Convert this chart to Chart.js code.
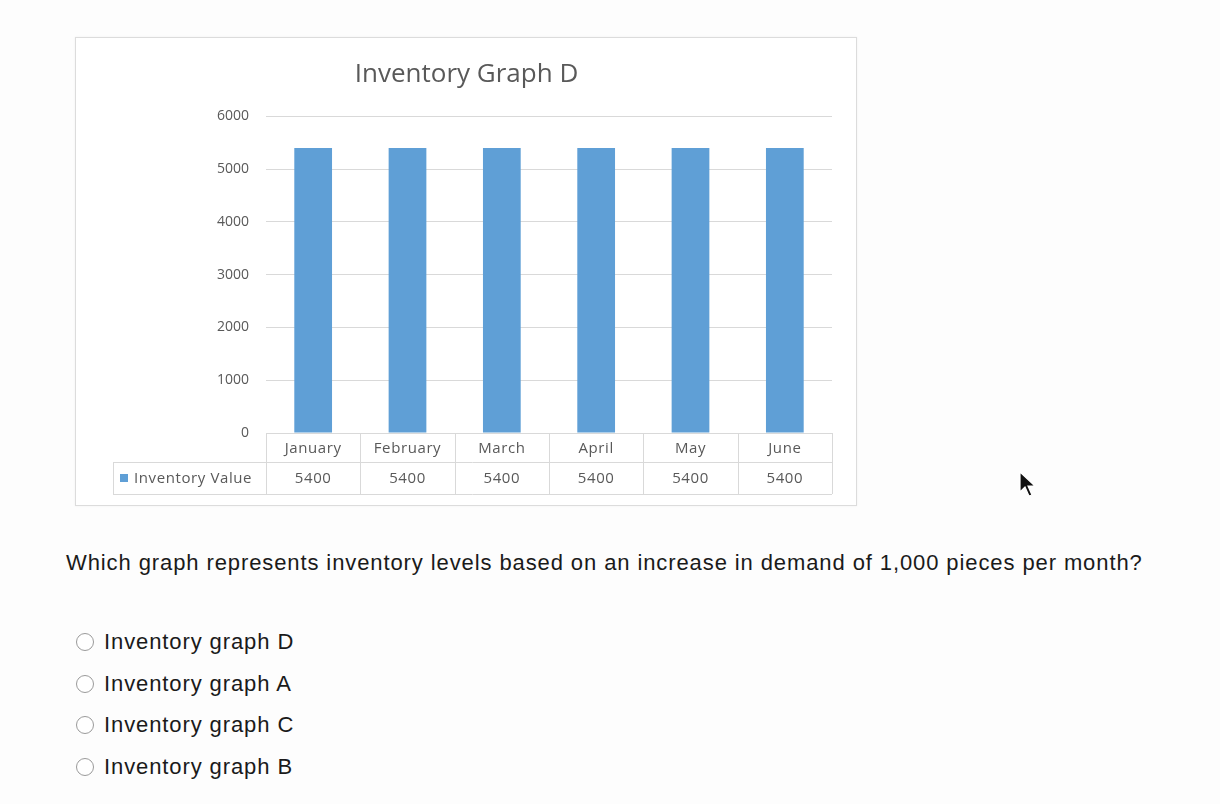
<!DOCTYPE html>
<html>
<head>
<meta charset="utf-8">
<title>Inventory Graph D</title>
<script src="https://cdn.jsdelivr.net/npm/chart.js@4/dist/chart.umd.min.js"></script>
<style>
  body { margin: 0; background: #fdfdfd; width: 1220px; height: 804px; position: relative; overflow: hidden; font-family: "Liberation Sans", Arial, sans-serif; }
  #chartBox { position: absolute; left: 75px; top: 37px; width: 780px; height: 467px; border: 1px solid #dcdcdc; background: #fff; box-shadow: 0 0 2px rgba(0,0,0,0.06); }
  #question { position: absolute; left: 66px; top: 550px; font-size: 22px; letter-spacing: 0.9px; color: #1a1a1a; white-space: nowrap; }
  .opt { position: absolute; left: 76px; font-size: 22px; letter-spacing: 0.9px; color: #1a1a1a; display: flex; align-items: center; }
  .opt span.radio { width: 18px; height: 18px; border: 1px solid #9a9a9a; border-radius: 50%; background: #fff; margin-right: 10px; box-sizing: border-box; }
  #cursor { position: absolute; left: 1018px; top: 470px; }
</style>
</head>
<body>
<div id="chartBox"><canvas id="invChart" width="780" height="467"></canvas></div>

<div id="question">Which graph represents inventory levels based on an increase in demand of 1,000 pieces per month?</div>
<div class="opt" style="top:629px"><span class="radio"></span>Inventory graph D</div>
<div class="opt" style="top:671px"><span class="radio"></span>Inventory graph A</div>
<div class="opt" style="top:712px"><span class="radio"></span>Inventory graph C</div>
<div class="opt" style="top:754px"><span class="radio"></span>Inventory graph B</div>

<svg id="cursor" width="20" height="30" viewBox="0 0 20 30">
  <path d="M2 2 L2 22 L7 17 L11 26 L14 25 L10 16 L17 16 Z" fill="#111" stroke="#fff" stroke-width="1.2"/>
</svg>

<script>
// data of the chart
const months = ['January', 'February', 'March', 'April', 'May', 'June'];
const inventoryValues = [5400, 5400, 5400, 5400, 5400, 5400];
const seriesName = 'Inventory Value';
const yMin = 0;
const yMax = 6000;
const yStep = 1000;

const barColor = '#5f9fd6';
const lineColor = '#d9d9d9';
const textColor = '#595959';

// data table under the plot (like Excel)
const dataTable = {
  id: 'dataTable',
  afterDraw(chart) {
    const ctx = chart.ctx;
    const x = chart.scales.x;
    const area = chart.chartArea;
    const y0 = area.bottom;
    const y1 = y0 + 29;
    const y2 = y1 + 32;
    const legendLeft = 37;

    // cell borders
    const edges = [area.left];
    for (let i = 1; i < months.length; i++) {
      edges.push((x.getPixelForValue(i - 1) + x.getPixelForValue(i)) / 2);
    }
    edges.push(area.right);

    ctx.save();
    ctx.strokeStyle = lineColor;
    ctx.lineWidth = 1;
    ctx.beginPath();
    ctx.moveTo(area.left, y0 + 0.5); ctx.lineTo(area.right, y0 + 0.5);
    ctx.moveTo(legendLeft, y1 + 0.5); ctx.lineTo(area.right, y1 + 0.5);
    ctx.moveTo(legendLeft, y2 + 0.5); ctx.lineTo(area.right, y2 + 0.5);
    ctx.moveTo(legendLeft + 0.5, y1); ctx.lineTo(legendLeft + 0.5, y2);
    edges.forEach(e => {
      ctx.moveTo(Math.round(e) + 0.5, y0); ctx.lineTo(Math.round(e) + 0.5, y2);
    });
    ctx.stroke();

    // texts
    ctx.font = '15px "Open Sans", sans-serif';
    ctx.letterSpacing = '0.6px';
    ctx.fillStyle = textColor;
    ctx.textAlign = 'center';
    ctx.textBaseline = 'middle';
    months.forEach((m, i) => {
      const cx = x.getPixelForValue(i);
      ctx.fillText(m, cx, (y0 + y1) / 2 + 1);
      ctx.fillText(String(inventoryValues[i]), cx, (y1 + y2) / 2 + 1);
    });

    // legend key
    ctx.fillStyle = barColor;
    ctx.fillRect(legendLeft + 7, (y1 + y2) / 2 - 4, 8, 8);
    ctx.fillStyle = textColor;
    ctx.textAlign = 'left';
    ctx.fillText(seriesName, legendLeft + 21, (y1 + y2) / 2 + 1);
    ctx.restore();
  }
};

const invCtx = document.getElementById('invChart').getContext('2d');
const invChart = new Chart(invCtx, {
  type: 'bar',
  data: {
    labels: months,
    datasets: [{
      label: seriesName,
      data: inventoryValues,
      backgroundColor: barColor,
      barPercentage: 0.4,
      categoryPercentage: 1
    }]
  },
  options: {
    responsive: false,
    animation: false,
    layout: { padding: { left: 25, right: 24, top: 0, bottom: 72 } },
    plugins: {
      legend: { display: false },
      tooltip: { enabled: false },
      title: {
        display: true,
        text: 'Inventory Graph D',
        color: textColor,
        font: { family: '"Open Sans", sans-serif', size: 26, weight: 'normal' },
        padding: { top: 21, bottom: 26 }
      }
    },
    scales: {
      x: {
        ticks: { display: false },
        grid: { display: false },
        border: { display: false },
        afterFit: s => { s.height = 0; }
      },
      y: {
        min: yMin,
        max: yMax,
        ticks: {
          stepSize: yStep,
          padding: 17,
          color: textColor,
          font: { family: '"Open Sans", sans-serif', size: 14 },
          callback: v => String(v)
        },
        grid: { color: lineColor, drawTicks: false },
        border: { display: false },
        afterFit: s => { s.width = 165; }
      }
    }
  },
  plugins: [dataTable]
});
</script>
</body>
</html>
